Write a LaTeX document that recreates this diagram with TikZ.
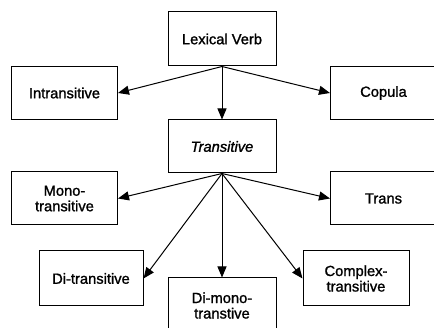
\documentclass[tikz,border=0pt]{standalone}
\usepackage{fontspec}
\setmainfont{Liberation Sans}[BoldFont=Liberation Sans,BoldFeatures={FakeBold=1.3},
    BoldItalicFont=Liberation Sans Italic,BoldItalicFeatures={FakeBold=1.3}]
\usetikzlibrary{arrows.meta}
\tikzset{
    verbbox/.style={draw,line width=1pt,minimum width=106pt,minimum height=53pt,
        inner sep=2pt,align=center,font=\fontsize{14.7}{15.5}\selectfont\bfseries},
    branch/.style={line width=1pt,-{Triangle[length=11pt,width=9pt]}}
}
\begin{document}
\begin{tikzpicture}[x=1pt,y=-1pt]
    \useasboundingbox (0,0) rectangle (434,328);
    \clip (0,0) rectangle (434,328);
    % upper level
    \node[verbbox,minimum width=108pt,minimum height=54pt] (lex) at (222,39) {Lexical Verb};
    \node[verbbox] (intr) at (64.5,93) {Intransitive};
    \node[verbbox] (cop) at (383.5,93) {Copula};
    \node[verbbox,minimum width=108pt] (trans) at (222,146.5) {\itshape Transitive};
    % kinds of transitive
    \node[verbbox] (mono) at (64.5,198.5) {Mono-\\transitive};
    \node[verbbox] (tr) at (383.5,198.5) {Trans};
    \node[verbbox,minimum width=104pt,minimum height=55pt] (ditr) at (91,278.5) {Di-transitive};
    \node[verbbox,minimum width=108pt,minimum height=55pt] (dimono) at (222,305.5) {Di-mono-\\transtive};
    \node[verbbox,minimum height=55pt] (cplx) at (356,278.5) {Complex-\\transitive};
    \draw[branch] (lex.south) -- (intr.east);
    \draw[branch] (lex.south) -- (cop.west);
    \draw[branch] (lex.south) -- (trans.north);
    \foreach \dst/\side in {mono/east,tr/west,ditr/east,dimono/north,cplx/west}
        \draw[branch] (trans.south) -- (\dst.\side);
\end{tikzpicture}
\end{document}
